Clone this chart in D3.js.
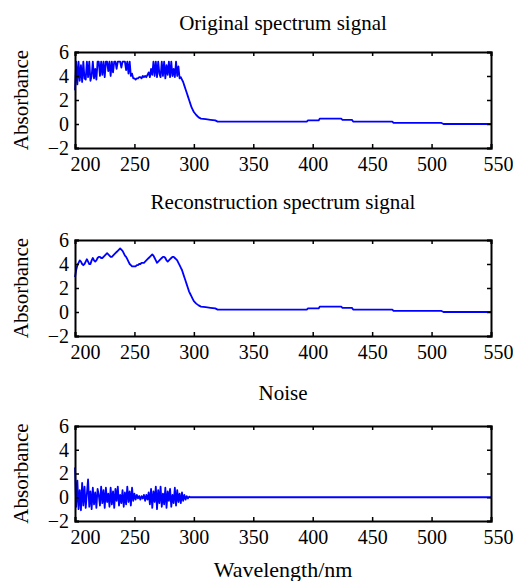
<!DOCTYPE html>
<html>
<head>
<meta charset="utf-8">
<script src="https://cdn.jsdelivr.net/npm/d3@7"></script>
<style>
  body { margin:0; background:#fff; }
</style>
</head>
<body>
<div id="plot"></div>
<script>
// wavelengths: 1 nm steps from 200 to 300, then the flat tail
var wlHead = [];
for (var w = 200; w <= 300; w++) wlHead.push(w);
var wlTail = [302,304,306,310,314,318,320,395,396,405,406,424,425,433,434,467,468,508,510,550];
var wavelength = wlHead.concat(wlTail);

// original spectrum (clipped at ~5.2)
var original = [
  2.8,5.2,3.3,5.2,3.6,4.9,3.5,5.2,3.8,3.7,
  5.2,3.9,5.2,3.6,4.0,5.2,3.8,4.6,3.7,5.2,
  5.2,4.0,5.2,4.1,5.2,3.9,5.2,5.2,4.4,5.2,
  4.0,5.2,4.3,5.2,5.2,4.6,5.2,5.2,5.2,4.7,
  5.2,5.2,5.2,4.5,5.2,4.2,5.2,4.0,4.2,3.8,
  3.8,3.7,3.8,3.8,3.9,3.9,3.8,4.0,3.9,4.0,
  3.9,4.1,4.3,3.9,4.6,4.1,5.2,4.0,5.2,3.9,
  5.2,4.2,3.9,5.2,4.0,5.2,3.8,4.9,4.1,5.2,
  3.9,5.2,4.0,4.6,3.9,5.2,4.0,4.8,3.8,3.9,
  3.7,3.5,3.2,2.9,2.6,2.3,2.0,1.7,1.4,1.2,
  1.0,
  0.75,0.55,0.45,0.4,0.35,0.3,0.2,0.2,0.3,0.3,0.45,0.45,0.35,0.35,0.2,0.2,0.1,0.1,0.0,0.0
];

// reconstructed spectrum
var reconstruction = [
  2.9,3.5,3.9,4.1,4.3,4.2,4.0,3.9,4.0,4.2,
  4.4,4.2,4.0,4.0,4.3,4.5,4.3,4.2,4.3,4.5,
  4.6,4.6,4.5,4.5,4.6,4.7,4.8,4.9,4.8,4.7,
  4.6,4.6,4.7,4.8,4.9,5.0,5.1,5.2,5.3,5.2,
  5.1,4.9,4.7,4.6,4.4,4.2,4.0,3.9,3.8,3.8,
  3.8,3.8,3.9,3.9,4.0,4.0,4.1,4.1,4.1,4.2,
  4.3,4.4,4.5,4.6,4.7,4.8,4.7,4.5,4.3,4.1,
  4.2,4.3,4.4,4.5,4.6,4.6,4.5,4.3,4.2,4.3,
  4.4,4.5,4.6,4.6,4.5,4.4,4.3,4.1,3.9,3.7,
  3.5,3.2,2.9,2.6,2.3,2.0,1.7,1.5,1.3,1.1,
  0.9,
  0.7,0.55,0.45,0.4,0.35,0.3,0.2,0.2,0.3,0.3,0.45,0.45,0.35,0.35,0.2,0.2,0.1,0.1,0.0,0.0
];

// noise
var noise = [
  2.5,-0.8,1.4,-1.0,0.6,-1.1,1.2,-0.7,0.9,-0.9,
  0.3,1.5,-0.8,0.5,-1.0,0.8,-0.6,0.4,-0.9,0.7,
  0.2,-0.7,0.9,-0.5,0.6,-0.9,0.8,-0.4,0.3,-0.8,
  0.8,-0.6,0.5,-0.9,0.7,-0.3,0.9,-0.7,0.2,-0.5,
  0.6,-0.8,0.4,-0.6,0.9,-0.4,0.5,-0.7,0.8,-0.3,
  0.3,-0.2,0.2,-0.1,0.1,-0.2,0.1,-0.1,0.2,-0.3,
  0.2,-0.2,0.4,-0.6,0.7,-0.9,0.5,-0.4,0.9,-1.0,
  0.6,-0.5,0.9,-0.8,0.3,-0.6,0.8,-0.9,0.5,-0.3,
  0.7,-0.8,0.2,-0.5,0.8,-0.7,0.6,-0.4,0.3,-0.5,
  0.4,-0.3,0.2,-0.2,0.1,-0.1,0.05,0,0,0,
  0,
  0,0,0,0,0,0,0,0,0,0,0,0,0,0,0,0,0,0,0,0
];

var titles = ['Original spectrum signal','Reconstruction spectrum signal','Noise'];
var xTicks = [200,250,300,350,400,450,500,550];
var yTicks = [-2,0,2,4,6];

var FONT = '"Liberation Serif","Times New Roman","DejaVu Serif",serif';
var W = 513, H = 581;
var margin = {l:75, r:22};
var panels = [
  {top:52, h:96, titleY:30, values:original},
  {top:240, h:96, titleY:209, values:reconstruction},
  {top:426, h:95, titleY:400, values:noise}
];

var svg = d3.select('#plot')
    .append('svg')
    .attr('width',W)
    .attr('height',H);

var x = d3.scaleLinear().domain([200,550]).range([margin.l, W-margin.r]);

panels.forEach(function(p,i){
    var y = d3.scaleLinear().domain([-2,6]).range([p.top+p.h, p.top]);
    var g = svg.append('g');

    // the line
    var line = d3.line()
        .x(function(d,j){ return x(wavelength[j]); })
        .y(function(d){ return y(d); });
    g.append('path')
        .datum(p.values)
        .attr('d',line)
        .attr('fill','none')
        .attr('stroke','#0000ff')
        .attr('stroke-width',1.8)
        .attr('stroke-linejoin','round');

    // axes, ticks pointing inside like matlab
    var xb = g.append('g')
        .attr('transform','translate(0,'+(p.top+p.h)+')')
        .call(d3.axisBottom(x).tickValues(xTicks).tickSize(-4).tickPadding(9));
    xb.selectAll('text').attr('dx',function(d){ return d==200 ? 10 : (d==550 ? 7 : 0); });
    g.append('g')
        .attr('transform','translate(0,'+p.top+')')
        .call(d3.axisTop(x).tickValues(xTicks).tickSize(-4).tickFormat(''));
    g.append('g')
        .attr('transform','translate('+margin.l+',0)')
        .call(d3.axisLeft(y).tickValues(yTicks).tickSize(-4).tickPadding(6));
    g.append('g')
        .attr('transform','translate('+(W-margin.r)+',0)')
        .call(d3.axisRight(y).tickValues(yTicks).tickSize(-4).tickFormat(''));

    g.selectAll('.domain').attr('stroke','#000').attr('stroke-width',2);
    g.selectAll('.tick line').attr('stroke','#000').attr('stroke-width',1.5);
    g.selectAll('.tick text')
        .attr('font-family',null)
        .style('font-family',FONT)
        .style('font-size','20px')
        .attr('fill','#000');
    g.selectAll('g').attr('font-family',FONT);

    // title
    g.append('text')
        .attr('x',(margin.l+W-margin.r)/2)
        .attr('y',p.titleY)
        .attr('text-anchor','middle')
        .style('font-family',FONT)
        .style('font-size','21px')
        .text(titles[i]);

    // y label
    g.append('text')
        .attr('transform','translate(28,'+(p.top+p.h/2)+') rotate(-90)')
        .attr('text-anchor','middle')
        .style('font-family',FONT)
        .style('font-size','21px')
        .text('Absorbance');
});

svg.append('text')
    .attr('x',(margin.l+W-margin.r)/2)
    .attr('y',577)
    .attr('text-anchor','middle')
    .style('font-family',FONT)
    .style('font-size','22px')
    .text('Wavelength/nm');
</script>
</body>
</html>
